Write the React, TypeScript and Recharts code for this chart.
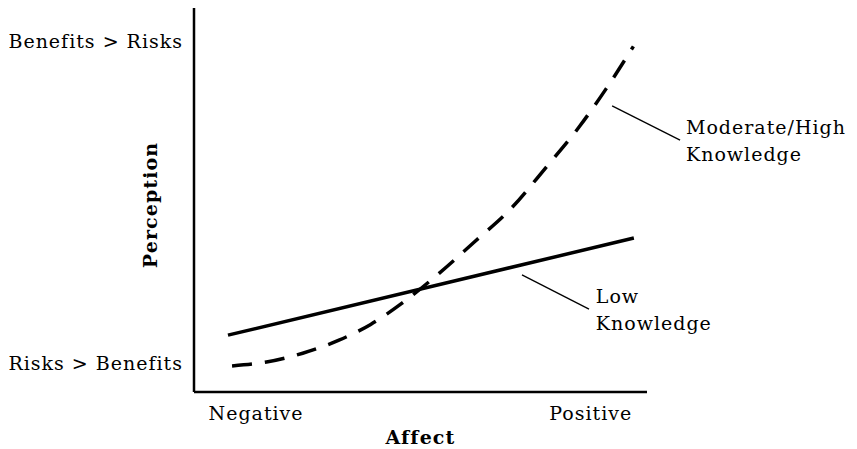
import { LineChart, Line, XAxis, YAxis, ReferenceLine, ReferenceDot } from "recharts";

// x: 0 = left edge of the axis, 100 = right end; y: 0 = x-axis, 100 = top of the y-axis
const lowKnowledge = [
  { affect: 7.5, perception: 14.8 },
  { affect: 97.1, perception: 40.1 },
];

const highKnowledge = [
  { affect: 8.4, perception: 6.8 },
  { affect: 16, perception: 7.8 },
  { affect: 24, perception: 10.1 },
  { affect: 32, perception: 13.5 },
  { affect: 39, perception: 17.6 },
  { affect: 46, perception: 23.2 },
  { affect: 54, perception: 30.8 },
  { affect: 62, perception: 39.2 },
  { affect: 70, perception: 47.8 },
  { affect: 77.5, perception: 58.2 },
  { affect: 85, perception: 69 },
  { affect: 91, perception: 79 },
  { affect: 97, perception: 90 },
];

const xTicks = [13.7, 87.6];
const xTickLabels = ["Negative", "Positive"];
const yTicks = [7.5, 91.4];
const yTickLabels = ["Risks > Benefits", "Benefits > Risks"];

const highLeader = [
  { x: 92.3, y: 74.5 },
  { x: 107.3, y: 65.6 },
];
const lowLeader = [
  { x: 72.4, y: 30.5 },
  { x: 87.2, y: 21.6 },
];
const highNote = { x: 108.6, y: 69.0, lines: ["Moderate/High", "Knowledge"] };
const lowNote = { x: 88.7, y: 25.0, lines: ["Low", "Knowledge"] };

const FONT = "'DejaVu Serif', serif";
const textStyle = { fill: "#000", fontSize: 19, fontFamily: FONT, letterSpacing: 1 };
const boldStyle = { fill: "#000", fontSize: 19, fontFamily: FONT, fontWeight: "bold", letterSpacing: 1.1 };

const noteShape = (lines: string[]) => (props: any) => (
  <text x={props.cx} y={props.cy} {...textStyle} dominantBaseline="central">
    {lines.map((t, i) => (
      <tspan key={t} x={props.cx} dy={i === 0 ? 0 : 27}>
        {t}
      </tspan>
    ))}
  </text>
);

export default function App() {
  return (
    <LineChart
      width={849}
      height={441}
      margin={{ top: 0, right: 210, bottom: 0, left: 0 }}
      style={{ fontFamily: FONT }}
    >
      <XAxis
        type="number"
        dataKey="affect"
        domain={[0, 100]}
        ticks={xTicks}
        tickFormatter={(v: number) => xTickLabels[xTicks.indexOf(v)]}
        allowDataOverflow
        height={57}
        axisLine={{ stroke: "#000", strokeWidth: 2.5 }}
        tickLine={false}
        tickMargin={9}
        tick={textStyle}
        label={{ value: "Affect", position: "insideBottom", offset: 5, ...boldStyle }}
      />
      <YAxis
        type="number"
        dataKey="perception"
        domain={[0, 100]}
        ticks={yTicks}
        tickFormatter={(v: number) => yTickLabels[yTicks.indexOf(v)]}
        allowDataOverflow
        width={186}
        axisLine={{ stroke: "#000", strokeWidth: 2.5 }}
        tickLine={false}
        tickMargin={5}
        tick={textStyle}
        label={{
          content: ({ viewBox }: any) => {
            const cx = viewBox.x + 142;
            const cy = viewBox.y + viewBox.height / 2 + 5;
            return (
              <text
                x={cx}
                y={cy}
                transform={`rotate(-90 ${cx} ${cy})`}
                textAnchor="middle"
                dominantBaseline="central"
                {...boldStyle}
              >
                Perception
              </text>
            );
          },
        }}
      />
      <Line
        data={lowKnowledge}
        dataKey="perception"
        type="linear"
        stroke="#000"
        strokeWidth={3.5}
        dot={false}
        isAnimationActive={false}
      />
      <Line
        data={highKnowledge}
        dataKey="perception"
        type="monotone"
        stroke="#000"
        strokeWidth={3.5}
        strokeDasharray="20 13"
        dot={false}
        isAnimationActive={false}
      />
      <ReferenceLine segment={highLeader} stroke="#000" strokeWidth={1.3} ifOverflow="visible" />
      <ReferenceLine segment={lowLeader} stroke="#000" strokeWidth={1.3} ifOverflow="visible" />
      <ReferenceDot
        x={highNote.x}
        y={highNote.y}
        r={0}
        ifOverflow="visible"
        shape={noteShape(highNote.lines)}
      />
      <ReferenceDot
        x={lowNote.x}
        y={lowNote.y}
        r={0}
        ifOverflow="visible"
        shape={noteShape(lowNote.lines)}
      />
    </LineChart>
  );
}
